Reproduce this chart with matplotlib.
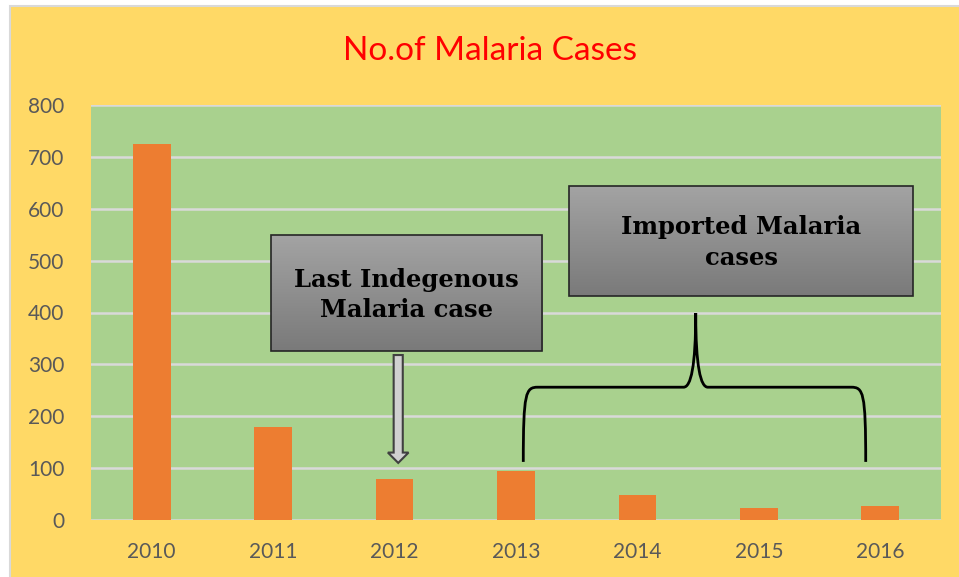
import numpy as np
import matplotlib
matplotlib.use("Agg")
import matplotlib.pyplot as plt
from matplotlib.patches import Rectangle, FancyArrow
from matplotlib.path import Path
from matplotlib.patches import PathPatch

years = ["2010", "2011", "2012", "2013", "2014", "2015", "2016"]
cases = [725, 180, 80, 94, 49, 24, 27]
yticks = [0, 100, 200, 300, 400, 500, 600, 700, 800]

W, H = 959, 577
fig = plt.figure(figsize=(W / 100, H / 100), dpi=100, facecolor="white")

# yellow chart frame with thin gray border (right/bottom run off the image)
fig.patches.append(Rectangle((10 / W, -0.01), 1.0, 1 - 6 / H + 0.01, transform=fig.transFigure,
                             facecolor="#FFD966", edgecolor="#D9D9D9", linewidth=1.5, zorder=-5))

ax = fig.add_axes([91 / W, 1 - 520 / H, 850 / W, 415 / H])
ax.set_facecolor("#A9D18E")
x = np.arange(len(years))
ax.bar(x, cases, width=0.31, color="#ED7D31", zorder=3)
ax.set_xlim(-0.5, len(years) - 0.5)
ax.set_ylim(0, 800)
ax.set_yticks(yticks)
ax.set_xticks(x)
ax.set_xticklabels(years)
ax.grid(axis="y", color="#D9D9D9", linewidth=1.8, zorder=1)
ax.set_axisbelow(True)
for s in ax.spines.values():
    s.set_visible(False)
ax.tick_params(length=0, labelsize=15, labelcolor="#595959")
ax.tick_params(axis="x", pad=16)
ax.tick_params(axis="y", pad=19)
for lab in ax.get_xticklabels() + ax.get_yticklabels():
    lab.set_family("Lato")

fig.text(490 / W, 1 - 51 / H, "No.of Malaria Cases", color="#FF0000", fontsize=24,
         family="Lato", ha="center", va="center")

# gradient callout boxes
grad = np.linspace(0, 1, 100).reshape(-1, 1)
cmap = matplotlib.colors.LinearSegmentedColormap.from_list("g", ["#A3A3A3", "#7A7A7A"])


def callout(x0, x1, y0, y1, text):
    ax.imshow(grad, extent=(x0, x1, y0, y1), aspect="auto", cmap=cmap, zorder=5,
              origin="upper")
    ax.add_patch(Rectangle((x0, y0), x1 - x0, y1 - y0, fill=False, edgecolor="#262626",
                           linewidth=1.2, zorder=6))
    ax.text((x0 + x1) / 2, (y0 + y1) / 2 - 3, text, ha="center", va="center",
            fontsize=17.5, fontweight="bold", family="DejaVu Serif", color="black",
            linespacing=1.32, zorder=7)


callout(0.98, 3.215, 326, 549, "Last Indegenous\nMalaria case")
callout(3.44, 6.27, 432, 644, "Imported Malaria\ncases")
ax.set_xlim(-0.5, len(years) - 0.5)
ax.set_ylim(0, 800)

# block arrow down to 2012
ax.add_patch(FancyArrow(2.03, 318, 0, -208, width=0.075, head_width=0.17, head_length=20,
                        length_includes_head=True, facecolor="#D0D0D0", edgecolor="#404040",
                        linewidth=1.5, zorder=6))

# curly brace over 2013-2016
xl, xr, xm = 3.06, 5.88, 4.48
yb, yh, yt = 112, 256, 399
verts = [(xl, yb), (xl, yh - 10), (xl + 0.02, yh), (xl + 0.12, yh),
         (xm - 0.1, yh), (xm - 0.04, yh), (xm, yh + 40), (xm, yt),
         (xm, yh + 40), (xm + 0.04, yh), (xm + 0.1, yh),
         (xr - 0.12, yh), (xr - 0.02, yh), (xr, yh - 10), (xr, yb)]
codes = [Path.MOVETO, Path.CURVE4, Path.CURVE4, Path.CURVE4,
         Path.LINETO, Path.CURVE4, Path.CURVE4, Path.CURVE4,
         Path.CURVE4, Path.CURVE4, Path.CURVE4,
         Path.LINETO, Path.CURVE4, Path.CURVE4, Path.CURVE4]
ax.add_patch(PathPatch(Path(verts, codes), fill=False, edgecolor="black", linewidth=2, zorder=6))

fig.savefig("out.png", dpi=100, facecolor="white")
